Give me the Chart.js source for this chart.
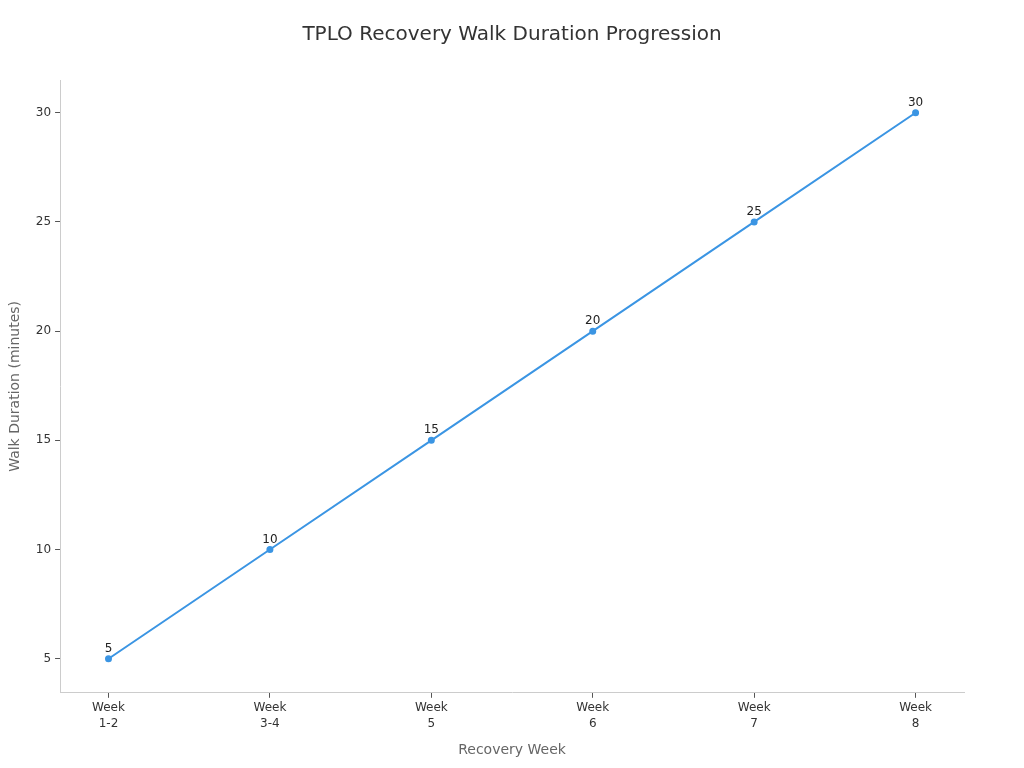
<!DOCTYPE html>
<html>
<head>
<meta charset="utf-8">
<script src="https://cdn.jsdelivr.net/npm/chart.js@4"></script>
<style>
  html, body { margin: 0; padding: 0; background: #fff; }
  #wrap { width: 1024px; height: 768px; }
</style>
</head>
<body>
<div id="wrap"><canvas id="walkChart" width="1024" height="768"></canvas></div>
<script>
const weeks = [['Week', '1-2'], ['Week', '3-4'], ['Week', '5'], ['Week', '6'], ['Week', '7'], ['Week', '8']];
const minutes = [5, 10, 15, 20, 25, 30];
const yTicks = [5, 10, 15, 20, 25, 30];
const chartTitle = 'TPLO Recovery Walk Duration Progression';

Chart.defaults.font.family = 'DejaVu Sans';
Chart.defaults.color = '#333';

// title centred on the whole canvas + value above each point
const extras = {
  id: 'extras',
  afterDraw(chart) {
    const ctx = chart.ctx;
    ctx.save();
    ctx.font = '20px DejaVu Sans';
    ctx.fillStyle = '#333';
    ctx.textAlign = 'center';
    ctx.textBaseline = 'middle';
    ctx.fillText(chartTitle, chart.width / 2, 35);

    ctx.font = '12px DejaVu Sans';
    ctx.fillStyle = '#222';
    ctx.textBaseline = 'bottom';
    const meta = chart.getDatasetMeta(0);
    meta.data.forEach((pt, i) => {
      ctx.fillText(String(minutes[i]), pt.x, pt.y - 4);
    });
    ctx.restore();
  }
};

const ctx = document.getElementById('walkChart').getContext('2d');
new Chart(ctx, {
  type: 'line',
  data: {
    datasets: [{
      data: minutes.map((v, i) => ({ x: i, y: v })),
      borderColor: '#3b95e3',
      backgroundColor: '#3b95e3',
      borderWidth: 2,
      pointRadius: 2.5,
      pointHoverRadius: 3,
      tension: 0,
      fill: false
    }]
  },
  options: {
    responsive: false,
    animation: false,
    layout: { padding: { left: 3, right: 60, top: 80, bottom: 5 } },
    plugins: {
      legend: { display: false },
      tooltip: { enabled: false },
      title: { display: false }
    },
    scales: {
      x: {
        type: 'linear',
        min: -0.3,
        max: 5.3,
        afterBuildTicks: axis => { axis.ticks = weeks.map((w, i) => ({ value: i })); },
        ticks: {
          callback: (v) => weeks[v],
          color: '#333',
          font: { size: 12, lineHeight: 1.35 },
          padding: 2,
          maxRotation: 0
        },
        grid: { display: true, drawOnChartArea: false, drawTicks: true, tickLength: 5, tickColor: '#555' },
        border: { display: true, color: '#ccc' },
        title: {
          display: true,
          text: 'Recovery Week',
          color: '#666',
          font: { size: 14 },
          padding: { top: 8 }
        }
      },
      y: {
        min: 3.44,
        max: 31.5,
        afterBuildTicks: axis => { axis.ticks = yTicks.map(v => ({ value: v })); },
        ticks: { color: '#333', font: { size: 12 }, padding: 4 },
        grid: { display: true, drawOnChartArea: false, drawTicks: true, tickLength: 5, tickColor: '#555' },
        border: { display: true, color: '#ccc' },
        title: {
          display: true,
          text: 'Walk Duration (minutes)',
          color: '#666',
          font: { size: 14 },
          padding: { bottom: 8 }
        }
      }
    }
  },
  plugins: [extras]
});
</script>
</body>
</html>
